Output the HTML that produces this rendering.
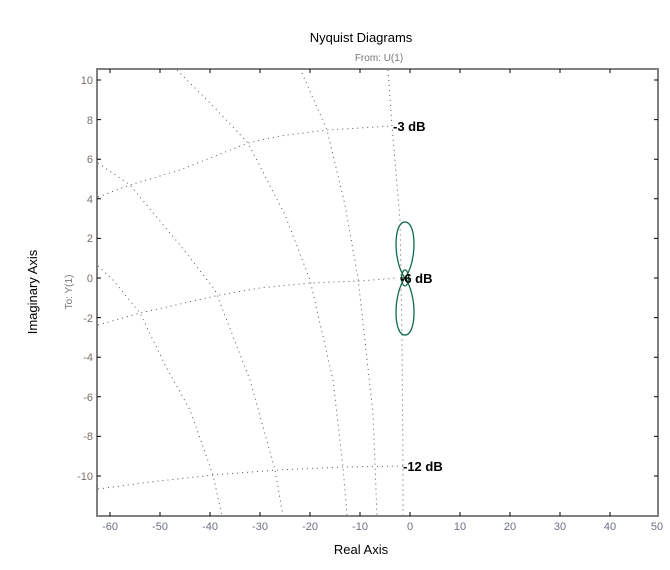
<!DOCTYPE html>
<html><head><style>body{margin:0;background:#fff}</style></head><body>
<svg width="670" height="565" xmlns="http://www.w3.org/2000/svg" font-family="Liberation Sans, sans-serif">
<rect width="670" height="565" fill="#fff"/>
<g fill="none" stroke="#555" stroke-width="1" stroke-dasharray="1 4">
<polyline points="98,197 130,185 180,170 248,143 280,136 327,130 392,126"/>
<polyline points="98,325 140,313 220,295 260,288 310,283 360,281 397,278"/>
<polyline points="98,489 150,482 213,475 277,470 343,467 403,466"/>
<polyline points="98,266 113,280 140,313 165,365 190,410 213,475 222,516"/>
<polyline points="98,163 130,185 180,245 215,290 250,380 275,470 283,516"/>
<polyline points="177,70 215,108 248,143 285,215 310,280 333,380 343,467 347,516"/>
<polyline points="302,73 327,130 345,205 358,278 373,413 377,516"/>
<polyline points="388,70 392,126 400,220 402,337 403,467 403,516"/>
</g>
<g fill="none" stroke="#116a45" stroke-width="1.3">
<path d="M405,278 C393,262 393,222 405,222 C417,222 417,262 405,278 C393,294 393,335 405,335 C417,335 417,294 405,278 Z"/>
<ellipse cx="405" cy="278" rx="3.5" ry="8"/>
</g>
<path d="M400,278 H410" stroke="#000" stroke-width="1"/>
<g font-size="13" font-weight="bold" fill="#000">
<text x="393" y="131">-3 dB</text>
<text x="400" y="283">-6 dB</text>
<text x="403" y="471">-12 dB</text>
</g>
<rect x="97" y="69" width="561" height="447" fill="none" stroke="#808080" stroke-width="2"/>
<g stroke="#000" stroke-width="1">
<path d="M110,516v-4M160,516v-4M210,516v-4M260,516v-4M310,516v-4M360,516v-4M410,516v-4M460,516v-4M510,516v-4M560,516v-4M610,516v-4M110,69v4M160,69v4M210,69v4M260,69v4M310,69v4M360,69v4M410,69v4M460,69v4M510,69v4M560,69v4M610,69v4"/>
<path d="M97,80h4M97,119.6h4M97,159.2h4M97,198.8h4M97,238.4h4M97,278h4M97,317.6h4M97,357.2h4M97,396.8h4M97,436.4h4M97,476h4M658,80h-4M658,119.6h-4M658,159.2h-4M658,198.8h-4M658,238.4h-4M658,278h-4M658,317.6h-4M658,357.2h-4M658,396.8h-4M658,436.4h-4M658,476h-4"/>
</g>
<g font-size="11" fill="#6b7080" text-anchor="middle">
<text x="110" y="530">-60</text><text x="160" y="530">-50</text><text x="210" y="530">-40</text><text x="260" y="530">-30</text><text x="310" y="530">-20</text><text x="360" y="530">-10</text><text x="410" y="530">0</text><text x="460" y="530">10</text><text x="510" y="530">20</text><text x="560" y="530">30</text><text x="610" y="530">40</text><text x="657" y="530">50</text>
</g>
<g font-size="11" fill="#7a7068" text-anchor="end">
<text x="93" y="84">10</text><text x="93" y="124">8</text><text x="93" y="163">6</text><text x="93" y="203">4</text><text x="93" y="242">2</text><text x="93" y="282">0</text><text x="93" y="322">-2</text><text x="93" y="361">-4</text><text x="93" y="401">-6</text><text x="93" y="440">-8</text><text x="93" y="480">-10</text>
</g>
<text x="361" y="42" font-size="13" text-anchor="middle" fill="#000">Nyquist Diagrams</text>
<text x="379" y="61" font-size="10" text-anchor="middle" fill="#777">From: U(1)</text>
<text x="361" y="554" font-size="13" text-anchor="middle" fill="#000">Real Axis</text>
<text transform="translate(37,292) rotate(-90)" font-size="13" text-anchor="middle" fill="#000">Imaginary Axis</text>
<text transform="translate(72,292) rotate(-90)" font-size="10" text-anchor="middle" fill="#777">To: Y(1)</text>
</svg>
</body></html>
